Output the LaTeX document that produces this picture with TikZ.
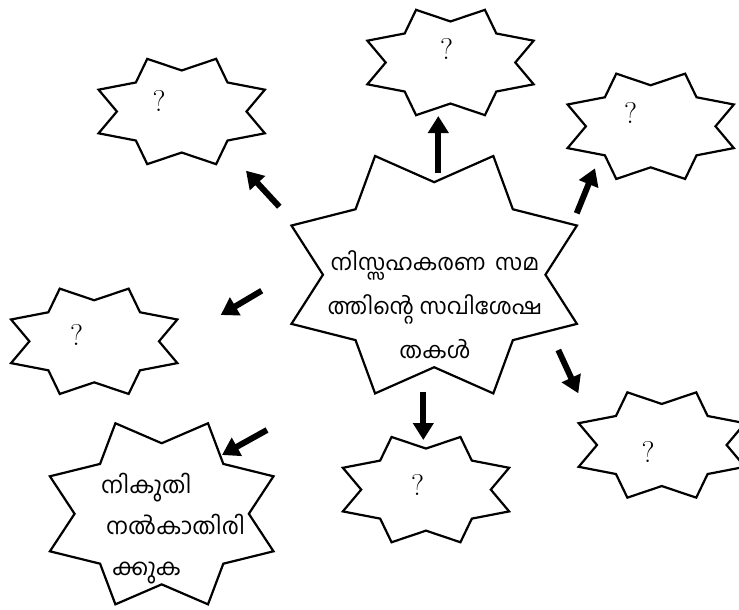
\documentclass[tikz,border=0pt]{standalone}
\usepackage{fontspec}
\newfontfamily\mlfont[Script=Malayalam]{Hind Kochi}
\usetikzlibrary{arrows.meta}
\tikzset{
  starline/.style={draw=black, line width=2.2pt, line join=miter},
  bigarrow/.style={line width=6pt, -{Triangle[length=17pt,width=20pt]}},
  qmark/.style={inner sep=0pt, font=\fontsize{30}{36}\selectfont},
  mlcenter/.style={inner sep=0pt, align=center, font=\mlfont\fontsize{22.5}{44}\selectfont},
  mlleft/.style={inner sep=0pt, align=left, font=\mlfont\fontsize{23}{41}\selectfont},
}
% star: centre x, centre y, outer x-radius, outer y-radius
\newcommand{\mlstar}[4]{%
  \draw[starline] plot[samples at={0,...,15}, variable=\k]
    ({#1+#3*(0.86-0.14*cos(180*\k))*cos(22.5*\k)},
     {#2+#4*(0.86-0.14*cos(180*\k))*sin(22.5*\k)}) -- cycle;}
\begin{document}
\begin{tikzpicture}[x=1pt,y=-1pt]
\fill[white] (0,0) rectangle (739,610);
\useasboundingbox (0,0) rectangle (739,610);

% stars
\mlstar{434.2}{274.7}{154.5}{128.5}
\mlstar{181.7}{111.5}{90}{57}
\mlstar{450.5}{62.5}{90}{57}
\mlstar{650.7}{126.3}{90}{57}
\mlstar{94.2}{341.3}{90}{57}
\mlstar{426}{489.6}{90}{57}
\mlstar{661.8}{445}{90}{57}
\mlstar{161.7}{513.8}{121}{98}

% texts
\node[mlcenter] (centre) at (435,305) {നിസ്സഹകരണ\hspace{4pt} സമ\\ത്തിന്റെ സവിശേഷ\\തകൾ};
\node[mlleft, anchor=west] (tax) at (101,529) {നികുതി\\\hspace*{5pt}നൽകാതിരി\\\hspace*{11pt}ക്കുക};
\node[qmark] (q1) at (159,101.3) {?};
\node[qmark] (q2) at (446.7,49) {?};
\node[qmark] (q3) at (630.7,113) {?};
\node[qmark] (q4) at (76.7,334.7) {?};
\node[qmark] (q5) at (417.7,485) {?};
\node[qmark] (q6) at (648,451.7) {?};

% arrows
\coordinate (a1s) at (279.3,206.7); \coordinate (a1e) at (246,170.7);
\coordinate (a2s) at (438.3,172.7); \coordinate (a2e) at (438.3,116);
\coordinate (a3s) at (576.7,213.3); \coordinate (a3e) at (595,168.3);
\coordinate (a4s) at (261.7,290.7); \coordinate (a4e) at (220.7,315);
\coordinate (a5s) at (267,430);     \coordinate (a5e) at (222,455);
\coordinate (a6s) at (423.3,391.7); \coordinate (a6e) at (423.3,440);
\coordinate (a7s) at (558.3,350);   \coordinate (a7e) at (578.3,393.3);
\foreach \i in {1,...,7} {\draw[bigarrow] (a\i s) -- (a\i e);}
\end{tikzpicture}
\end{document}
